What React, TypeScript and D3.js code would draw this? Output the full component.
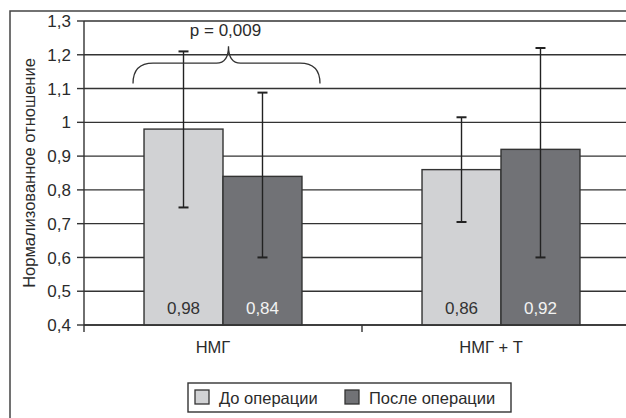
import React from 'react';
import * as d3 from 'd3';

// values
const groups = ['НМГ', 'НМГ + Т'];
const series = ['До операции', 'После операции'];
const before = [0.98, 0.86];
const after = [0.84, 0.92];
const beforeErr = [[0.748, 1.21], [0.705, 1.015]];
const afterErr = [[0.6, 1.088], [0.6, 1.22]];
const yTicks = [0.4, 0.5, 0.6, 0.7, 0.8, 0.9, 1.0, 1.1, 1.2, 1.3];
const valueLabels = [['0,98', '0,84'], ['0,86', '0,92']];
const pText = 'p = 0,009';

const colors = ['#d1d2d4', '#717276'];
const labelColors = ['#333', '#f2f2f2'];
const font = '"Liberation Sans", Arial, sans-serif';

const App = () => {
  const width = 626;
  const height = 418;
  const margin = { top: 21, left: 84, bottom: 93 };

  const y = d3.scaleLinear().domain([0.4, 1.3]).range([height - margin.bottom, margin.top]);
  const x = d3.scaleBand<string>().domain(groups).range([margin.left, margin.left + 556]);
  const xs = d3.scaleBand<string>().domain(series).range([0, x.bandwidth()]).paddingOuter(0.76);

  const vals = [before, after];
  const errs = [beforeErr, afterErr];
  const bw = xs.bandwidth();
  const y0 = y(0.4);

  // brace over first group
  const bx0 = x(groups[0])! + xs(series[0])! - 11;
  const bx1 = x(groups[0])! + xs(series[1])! + bw + 18;
  const bmid = (bx0 + bx1) / 2 + 2;
  const by = y(1.115);
  const bt = y(1.175);
  const bp = y(1.225);
  const r = 10;
  const brace = `M${bx0},${by} Q${bx0},${bt} ${bx0 + r * 2},${bt} L${bmid - 12},${bt} Q${bmid},${bt} ${bmid},${bp}`
    + ` Q${bmid},${bt} ${bmid + 12},${bt} L${bx1 - r * 2},${bt} Q${bx1},${bt} ${bx1},${by}`;

  return (
    <svg width={width} height={height} style={{ position: 'absolute', left: 0, top: 0 }} fontFamily={font}>
      <rect x={0} y={0} width={width} height={height} fill="#fff" />
      {/* outer frame, cut off at right and bottom like the scan */}
      <rect x={10} y={11} width={700} height={500} fill="none" stroke="#444" strokeWidth={1.5} />

      {/* gridlines */}
      {yTicks.map(t => (
        <line key={t} x1={margin.left} x2={width} y1={y(t)} y2={y(t)} stroke="#333" strokeWidth={1.4} />
      ))}

      {/* y axis */}
      <line x1={margin.left} x2={margin.left} y1={margin.top} y2={y0 + 7} stroke="#333" strokeWidth={1.4} />
      {yTicks.map(t => (
        <g key={'t' + t}>
          <line x1={margin.left - 7} x2={margin.left} y1={y(t)} y2={y(t)} stroke="#333" strokeWidth={1.4} />
          <text x={71} y={y(t)} dy="0.36em" textAnchor="end" fontSize={17} fill="#2b2b2b">
            {String(+t.toFixed(1)).replace('.', ',')}
          </text>
        </g>
      ))}
      <line x1={x(groups[1])!} x2={x(groups[1])!} y1={y0} y2={y0 + 7} stroke="#333" strokeWidth={1.4} />

      <text transform={`translate(35,${(margin.top + y0) / 2}) rotate(-90)`} textAnchor="middle" fontSize={16.5} fill="#2b2b2b">
        Нормализованное отношение
      </text>

      {/* bars */}
      {groups.map((g, gi) =>
        series.map((s, si) => {
          const bx = x(g)! + xs(s)!;
          const v = vals[si][gi];
          return (
            <g key={g + s}>
              <rect x={bx} y={y(v)} width={bw} height={y0 - y(v)} fill={colors[si]} stroke="#333" strokeWidth={1.4} />
              <text x={bx + bw / 2} y={y0 - 11} textAnchor="middle" fontSize={17} fill={labelColors[si]}>
                {valueLabels[gi][si]}
              </text>
            </g>
          );
        })
      )}
      {/* baseline over bars */}
      <line x1={margin.left} x2={width} y1={y0} y2={y0} stroke="#333" strokeWidth={1.4} />

      {/* error bars */}
      {groups.map((g, gi) =>
        series.map((s, si) => {
          const cx = x(g)! + xs(s)! + bw / 2;
          const [lo, hi] = errs[si][gi];
          return (
            <g key={'e' + g + s} stroke="#222" strokeWidth={1.4}>
              <line x1={cx} x2={cx} y1={y(lo)} y2={y(hi)} />
              <line x1={cx - 5} x2={cx + 5} y1={y(lo)} y2={y(lo)} strokeWidth={2} />
              <line x1={cx - 5} x2={cx + 5} y1={y(hi)} y2={y(hi)} strokeWidth={2} />
            </g>
          );
        })
      )}

      {/* significance brace */}
      <path d={brace} fill="none" stroke="#333" strokeWidth={1.3} />
      <text x={bmid - 3} y={y(1.257)} textAnchor="middle" fontSize={17} fill="#2b2b2b">{pText}</text>

      {/* category labels */}
      {groups.map(g => (
        <text key={'c' + g} x={x(g)! + x.bandwidth() / 2 - 10} y={353} textAnchor="middle" fontSize={16.5} fill="#2b2b2b">
          {g}
        </text>
      ))}

      {/* legend */}
      <rect x={188} y={383} width={323} height={29} fill="#fff" stroke="#333" strokeWidth={1.4} />
      {series.map((s, si) => {
        const lx = si === 0 ? 195 : 345;
        return (
          <g key={'l' + s}>
            <rect x={lx} y={390} width={14} height={14} fill={colors[si]} stroke="#333" strokeWidth={1.3} />
            <text x={lx + 24} y={404} fontSize={16.5} fill="#2b2b2b">{s}</text>
          </g>
        );
      })}
    </svg>
  );
};

export default App;
